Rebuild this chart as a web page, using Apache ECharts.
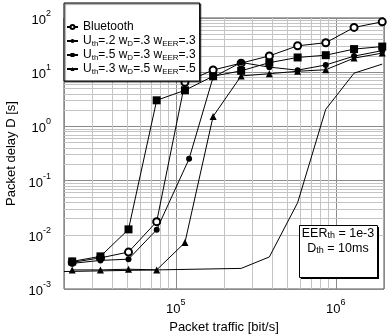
<!DOCTYPE html>
<html>
<head>
<meta charset="utf-8">
<script src="https://cdn.jsdelivr.net/npm/echarts@6/dist/echarts.min.js"></script>
<style>
  html, body { margin: 0; padding: 0; background: #fff; }
  #chart { width: 390px; height: 334px; }
</style>
</head>
<body>
<div id="chart"></div>
<script>
// packet traffic [bit/s] at the simulated points
var traffic = [2.25e4, 3.38e4, 5.06e4, 7.59e4, 1.14e5, 1.71e5, 2.56e5, 3.84e5, 5.77e5, 8.65e5, 1.30e6, 1.95e6];
// the U=.2 curve has its 5th point a bit to the right
var trafficU2 = [2.25e4, 3.38e4, 5.06e4, 7.59e4, 1.21e5, 1.71e5, 2.56e5, 3.84e5, 5.77e5, 8.65e5, 1.30e6, 1.95e6];

// packet delay D [s]
var bluetooth = [3.1e-3, 3.75e-3, 4.8e-3, 1.75e-2, 6.5, 11, 14.7, 20, 30.7, 35, 67, 85];
var uth2 = [2.97e-3, 3.37e-3, 3.55e-3, 1.24e-2, 0.252, 8.1, 15.1, 12.4, 10.9, 13.6, 19.8, 25.0];
var uth5 = [3.23e-3, 4.0e-3, 1.26e-2, 3.03, 4.64, 8.43, 10.6, 15.0, 18.7, 20.6, 26.7, 29.7];
var uth3 = [2.25e-3, 2.25e-3, 2.32e-3, 2.25e-3, 7.2e-3, 1.53, 8.54, 9.38, 10.4, 11.1, 18.2, 22.5];

// curve without markers / legend entry
var plainTraffic = [2.0e4, 2.56e5, 3.84e5, 5.77e5, 8.65e5, 1.30e6, 1.95e6];
var plainDelay = [2.1e-3, 2.4e-3, 3.9e-3, 3.9e-2, 2.07, 9.6, 14.1];

var seriesNames = ['Bluetooth', 'Uth=.2 wD=.3 wEER=.3', 'Uth=.5 wD=.3 wEER=.3', 'Uth=.3 wD=.5 wEER=.5'];
var legendLabels = {
  'Bluetooth': 'Bluetooth',
  'Uth=.2 wD=.3 wEER=.3': 'U{s|th}=.2 w{s|D}=.3 w{s|EER}=.3',
  'Uth=.5 wD=.3 wEER=.3': 'U{s|th}=.5 w{s|D}=.3 w{s|EER}=.3',
  'Uth=.3 wD=.5 wEER=.5': 'U{s|th}=.3 w{s|D}=.5 w{s|EER}=.5'
};

// minor grid multipliers inside each decade
var minorSteps = [2, 3, 4, 5, 6, 7, 8, 9];
var xDecades = [1e4, 1e5, 1e6];
var yDecades = [1e-3, 1e-2, 1e-1, 1, 10];

function pairs(xs, ys) {
  return xs.map(function (x, i) { return [x, ys[i]]; });
}

var xMin = 2e4, xMax = 2e6, yMin = 1e-3, yMax = 100;
var minorLines = [];
xDecades.forEach(function (d) {
  minorSteps.forEach(function (k) {
    var v = d * k;
    if (v > xMin && v < xMax) minorLines.push({ xAxis: v });
  });
});
yDecades.forEach(function (d) {
  minorSteps.forEach(function (k) {
    minorLines.push({ yAxis: d * k });
  });
});

function decadeLabel(v) {
  var e = Math.log10(v);
  var r = Math.round(e);
  if (Math.abs(e - r) > 1e-6) return '';
  return '{base|10}{sup|' + r + '}';
}

var font = 'Liberation Sans';
var supRich = {
  base: { fontSize: 13, lineHeight: 18, fontFamily: font, color: '#000', verticalAlign: 'bottom' },
  sup: { fontSize: 9, lineHeight: 10, fontFamily: font, color: '#000', verticalAlign: 'top' }
};

var chart = echarts.init(document.getElementById('chart'));

var lineBase = {
  type: 'line',
  animation: false,
  lineStyle: { color: '#000', width: 1 },
  itemStyle: { color: '#000' },
  emphasis: { disabled: true }
};

var option = {
  animation: false,
  backgroundColor: '#fff',
  textStyle: { fontFamily: font },
  grid: {
    left: 64, right: 6, top: 18, bottom: 45,
    outerBoundsMode: 'none',
    containLabel: false,
    show: true, borderColor: '#555', borderWidth: 1
  },
  xAxis: {
    type: 'log', logBase: 10, min: xMin, max: xMax,
    name: 'Packet traffic [bit/s]', nameLocation: 'middle', nameGap: 32,
    nameTextStyle: { fontSize: 13, color: '#000', fontFamily: font },
    axisLine: { show: false },
    axisTick: { show: false },
    axisLabel: { margin: 9, color: '#000', formatter: decadeLabel, rich: supRich },
    splitLine: { show: true, lineStyle: { color: '#8a8a8a', width: 1 } }
  },
  yAxis: {
    type: 'log', logBase: 10, min: yMin, max: yMax,
    name: 'Packet delay D [s]', nameLocation: 'middle', nameGap: 44,
    nameTextStyle: { fontSize: 13, color: '#000', fontFamily: font },
    axisLine: { show: false },
    axisTick: { show: false },
    axisLabel: { margin: 13, color: '#000', formatter: decadeLabel, rich: supRich },
    splitLine: { show: true, lineStyle: { color: '#8a8a8a', width: 1 } }
  },
  legend: {
    data: seriesNames,
    orient: 'vertical',
    left: 64, top: 3,
    padding: [17, 4, 5, 2],
    itemGap: 0,
    itemWidth: 11, itemHeight: 5,
    backgroundColor: '#fff',
    borderColor: '#000', borderWidth: 1,
    shadowColor: 'rgba(0,0,0,0.6)', shadowOffsetX: 1, shadowOffsetY: 1, shadowBlur: 1,
    z: 10,
    selectedMode: false,
    formatter: function (name) { return legendLabels[name]; },
    textStyle: {
      fontSize: 12, lineHeight: 14, color: '#000', fontFamily: font,
      rich: { s: { fontSize: 8, lineHeight: 8, verticalAlign: 'bottom', color: '#000', fontFamily: font } }
    }
  },
  graphic: [
    { type: 'rect', left: 301, top: 227, z: 20, shape: { width: 78, height: 52 }, style: { fill: '#000' } },
    { type: 'rect', left: 299, top: 225, z: 21, shape: { width: 78, height: 52 }, style: { fill: '#fff', stroke: '#000', lineWidth: 1 } },
    {
      type: 'text', x: 338, y: 225, z: 22,
      style: {
        text: '{m|EER}{s|th}{m| = 1e-3}\n{m|D}{s|th}{m| = 10ms}',
        textAlign: 'center',
        fill: '#000',
        rich: {
          m: { fontSize: 12.5, lineHeight: 15, fontFamily: font, verticalAlign: 'bottom', fill: '#000' },
          s: { fontSize: 9, lineHeight: 9, fontFamily: font, verticalAlign: 'bottom', fill: '#000' }
        }
      }
    }
  ],
  series: [
    Object.assign({}, lineBase, {
      name: '_plain', data: pairs(plainTraffic, plainDelay), symbol: 'none', z: 1,
      markLine: {
        silent: true, symbol: 'none', z: 1, animation: false,
        label: { show: false },
        lineStyle: { color: '#c4c4c4', width: 1, type: 'solid' },
        data: minorLines
      }
    }),
    Object.assign({}, lineBase, {
      name: seriesNames[0], data: pairs(traffic, bluetooth),
      symbol: 'emptyCircle', symbolSize: 7, z: 3
    }),
    Object.assign({}, lineBase, {
      name: seriesNames[1], data: pairs(trafficU2, uth2),
      symbol: 'circle', symbolSize: 6, z: 3
    }),
    Object.assign({}, lineBase, {
      name: seriesNames[2], data: pairs(traffic, uth5),
      symbol: 'rect', symbolSize: 8, z: 3
    }),
    Object.assign({}, lineBase, {
      name: seriesNames[3], data: pairs(traffic, uth3),
      symbol: 'triangle', symbolSize: 7, z: 3
    })
  ]
};

chart.setOption(option);
</script>
</body>
</html>
